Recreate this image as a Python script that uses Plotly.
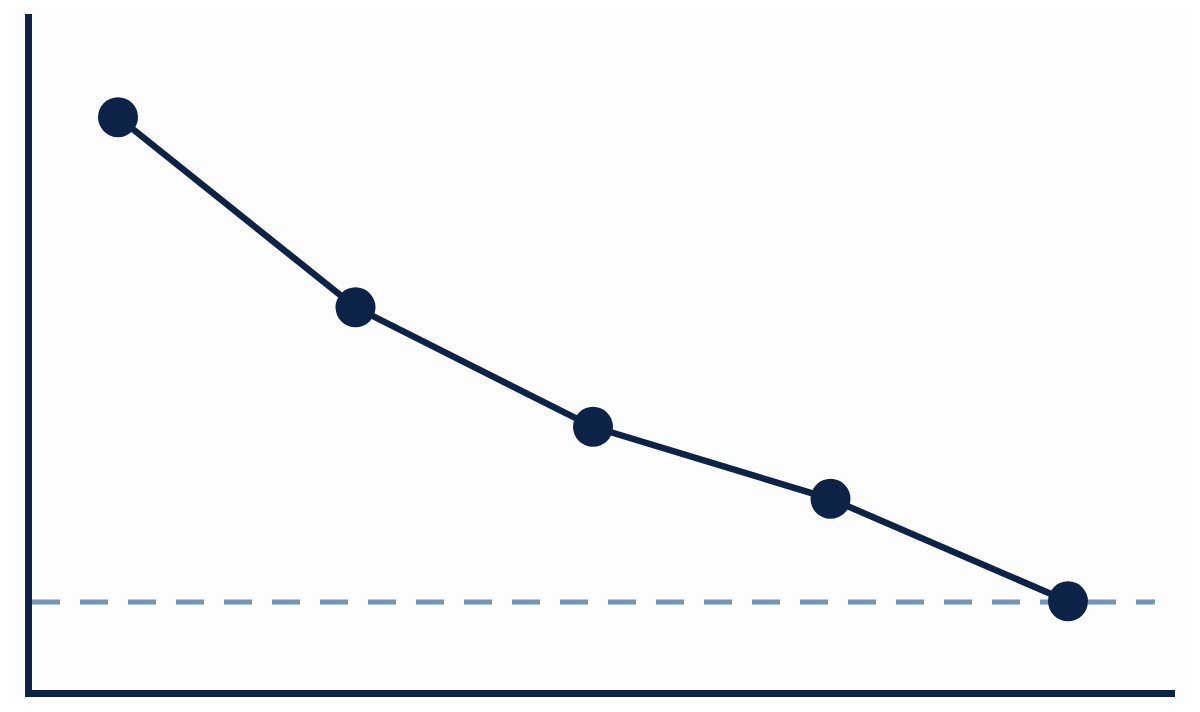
import plotly.graph_objs as go

# data
steps = [1, 2, 3, 4, 5]
values = [84.8, 56.8, 39.2, 28.6, 13.5]
threshold = 13.4
threshold_x = [0.6379, 5.366]

navy = "#0c2347"
steel = "#7396b8"

fig = go.Figure()

fig.add_trace(go.Scatter(
    x=threshold_x,
    y=[threshold] * len(threshold_x),
    mode="lines",
    line=dict(color=steel, width=5, dash="28px,20px"),
    hoverinfo="skip",
    showlegend=False,
))

fig.add_trace(go.Scatter(
    x=steps,
    y=values,
    mode="lines+markers",
    line=dict(color=navy, width=6.5),
    marker=dict(color=navy, size=40, line=dict(width=0)),
    cliponaxis=False,
    showlegend=False,
))

# page body adds 8px, so the figure is a bit smaller and margins shifted
fig.update_layout(
    width=1184,
    height=696,
    margin=dict(l=24, r=17, t=6, b=14),
    paper_bgcolor="#fdfdfd",
    plot_bgcolor="#fdfdfd",
    xaxis=dict(
        range=[0.6379, 5.4505],
        showline=True, linecolor=navy, linewidth=7,
        showgrid=False, zeroline=False, showticklabels=False, ticks="",
        fixedrange=True,
    ),
    yaxis=dict(
        range=[0.44, 100],
        showline=True, linecolor=navy, linewidth=7,
        showgrid=False, zeroline=False, showticklabels=False, ticks="",
        fixedrange=True,
    ),
)

fig.write_html("out.html")
